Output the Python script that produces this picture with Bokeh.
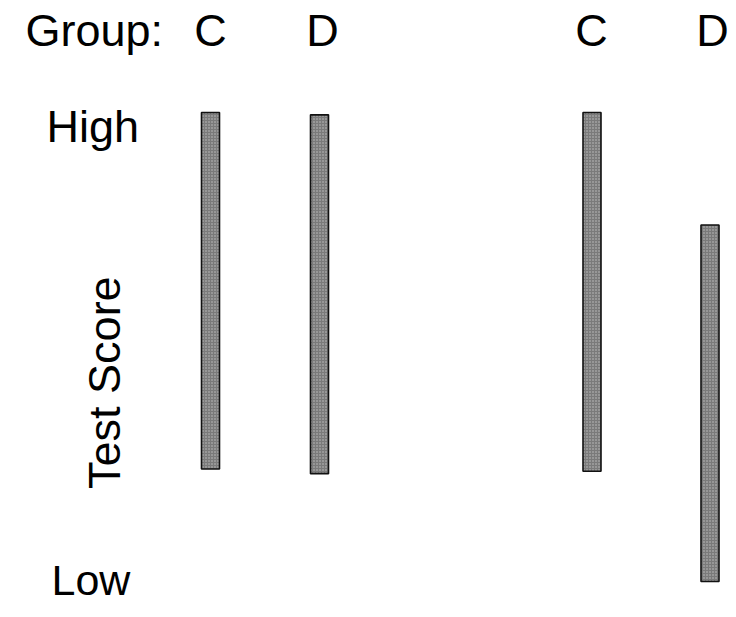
import math
from bokeh.plotting import figure
from bokeh.models import Range1d, ColumnDataSource
from bokeh.core.properties import value
from bokeh.embed import file_html
from bokeh.resources import INLINE

# ---- data (test score ranges, High = 100, Low = 0) ----
groups = ["C", "D", "C", "D"]
score_high = [100, 99.5, 100, 76]
score_low = [24, 23, 23.5, 0]

# ---- layout (canvas x positions of the bars, not data) ----
bar_x = [210, 319, 591.5, 709.5]
label_x = [210, 322, 591, 712]

W, H = 728, 609
PX_PER_UNIT = 4.69
ZERO_Y = 581

FONT = value("Liberation Sans")

p = figure(width=W, height=H, output_backend="svg", toolbar_location=None,
           x_range=Range1d(0, W),
           y_range=Range1d((ZERO_Y - H) / PX_PER_UNIT, ZERO_Y / PX_PER_UNIT),
           min_border=0, outline_line_color=None)
p.axis.visible = False
p.grid.visible = False
p.background_fill_color = "white"

src = ColumnDataSource(dict(x=bar_x, top=score_high, bottom=score_low, g=groups))
p.vbar(x="x", top="top", bottom="bottom", width=18, source=src,
       fill_color="#7a7a7a", line_color="#111111", line_width=1.6,
       hatch_pattern="dot", hatch_color="#e0e0e0", hatch_alpha=0.7,
       hatch_scale=3, hatch_weight=1)

# group letters across the top
p.text(x=label_x, y=[117.4] * 4, text=groups, text_font=FONT,
       text_font_size="45px", text_color="black",
       text_align="center", text_baseline="alphabetic")
p.text(x=[25], y=[117.4], text=["Group:"], text_font=FONT,
       text_font_size="45px", text_color="black",
       text_align="left", text_baseline="alphabetic")

# axis end labels
p.text(x=[46], y=[97.0], text=["High"], text_font=FONT,
       text_font_size="45px", text_color="black",
       text_align="left", text_baseline="alphabetic")
p.text(x=[51], y=[0.3], text=["Low"], text_font=FONT,
       text_font_size="43px", text_color="black",
       text_align="left", text_baseline="alphabetic")
p.text(x=[104], y=[42.4], text=["Test Score"], text_font=FONT,
       text_font_size="45px", text_color="black", angle=math.pi / 2,
       text_align="center", text_baseline="middle")

open("out.html", "w").write(file_html(p, INLINE))
